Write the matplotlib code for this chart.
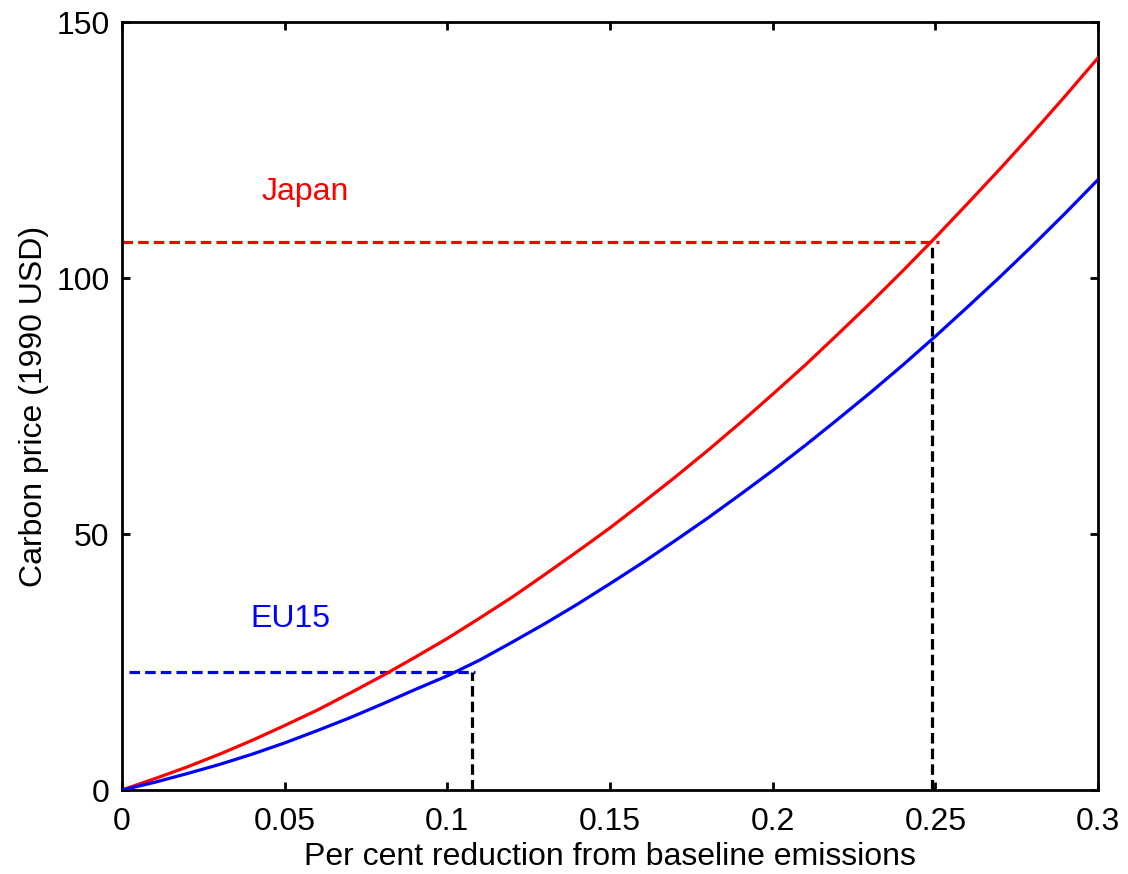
import matplotlib
matplotlib.use("Agg")
import matplotlib.pyplot as plt

# Emission reduction share (fraction of baseline)
reduction = [0.00, 0.01, 0.02, 0.03, 0.04, 0.05, 0.06, 0.07, 0.08, 0.09,
             0.10, 0.11, 0.12, 0.13, 0.14, 0.15, 0.16, 0.17, 0.18, 0.19,
             0.20, 0.21, 0.22, 0.23, 0.24, 0.25, 0.26, 0.27, 0.28, 0.29, 0.30]

# Marginal abatement cost curves, carbon price in 1990 USD
japan_price = [0.0, 2.2, 4.5, 7.0, 9.7, 12.6, 15.6, 18.9, 22.3, 25.9,
               29.6, 33.6, 37.7, 42.1, 46.6, 51.2, 56.1, 61.1, 66.3, 71.7,
               77.3, 83.0, 89.0, 95.1, 101.4, 107.9, 114.6, 121.4, 128.4, 135.6, 143.0]
eu15_price = [0.0, 1.5, 3.2, 5.0, 7.0, 9.2, 11.6, 14.1, 16.8, 19.6,
              22.3, 25.4, 28.9, 32.5, 36.3, 40.3, 44.4, 48.7, 53.1, 57.7,
              62.4, 67.3, 72.4, 77.6, 83.0, 88.6, 94.4, 100.3, 106.4, 112.7, 119.2]

# Required reductions and the implied carbon prices
japan_target = (0.249, 107.0)
eu15_target = (0.1076, 23.0)

x_ticks = [0, 0.05, 0.1, 0.15, 0.2, 0.25, 0.3]
x_tick_labels = ["0", "0.05", "0.1", "0.15", "0.2", "0.25", "0.3"]
y_ticks = [0, 50, 100, 150]
y_tick_labels = ["0", "50", "100", "150"]

plt.rcParams["font.family"] = ["Liberation Sans", "DejaVu Sans"]

fig = plt.figure(figsize=(11.28, 8.74), dpi=100)
ax = fig.add_axes([0.1082, 0.0961, 0.9734 - 0.1082, 0.9748 - 0.0961])

red = (1.0, 0.0, 0.0)
blue = (0.0, 0.0, 1.0)
dash = (3.3, 1.6)
fs = 23

ax.plot(reduction, japan_price, color=red, lw=2.3, zorder=3)
ax.plot(reduction, eu15_price, color=blue, lw=2.3, zorder=3)

# Guide lines from each target to the axes
ax.plot([0.0, japan_target[0] + 0.002], [japan_target[1]] * 2,
        color=red, lw=2.3, dashes=dash, zorder=2)
ax.plot([japan_target[0]] * 2, [0, japan_target[1]],
        color="black", lw=2.3, dashes=dash, zorder=2)
ax.plot([0.002, eu15_target[0] + 0.001], [eu15_target[1]] * 2,
        color=blue, lw=2.3, dashes=dash, zorder=2)
ax.plot([eu15_target[0]] * 2, [0, eu15_target[1]],
        color="black", lw=2.3, dashes=dash, zorder=2)

ax.text(0.043, 115.2, "Japan", color=red, fontsize=fs, ha="left", va="baseline")
ax.text(0.0393, 31.8, "EU15", color=blue, fontsize=fs, ha="left", va="baseline")

ax.set_xlim(0, 0.3)
ax.set_ylim(0, 150)
ax.set_xticks(x_ticks)
ax.set_xticklabels(x_tick_labels)
ax.set_yticks(y_ticks)
ax.set_yticklabels(y_tick_labels)

ax.tick_params(direction="in", length=6, width=2, top=True, right=True,
               labelsize=fs, colors="black")
ax.tick_params(axis="x", pad=12)
ax.tick_params(axis="y", pad=9)
for sp in ax.spines.values():
    sp.set_linewidth(2)
    sp.set_color("black")

ax.set_xlabel("Per cent reduction from baseline emissions", fontsize=fs, labelpad=4)
ax.set_ylabel("Carbon price (1990 USD)", fontsize=fs, labelpad=5)

fig.savefig("out.png", dpi=100)
